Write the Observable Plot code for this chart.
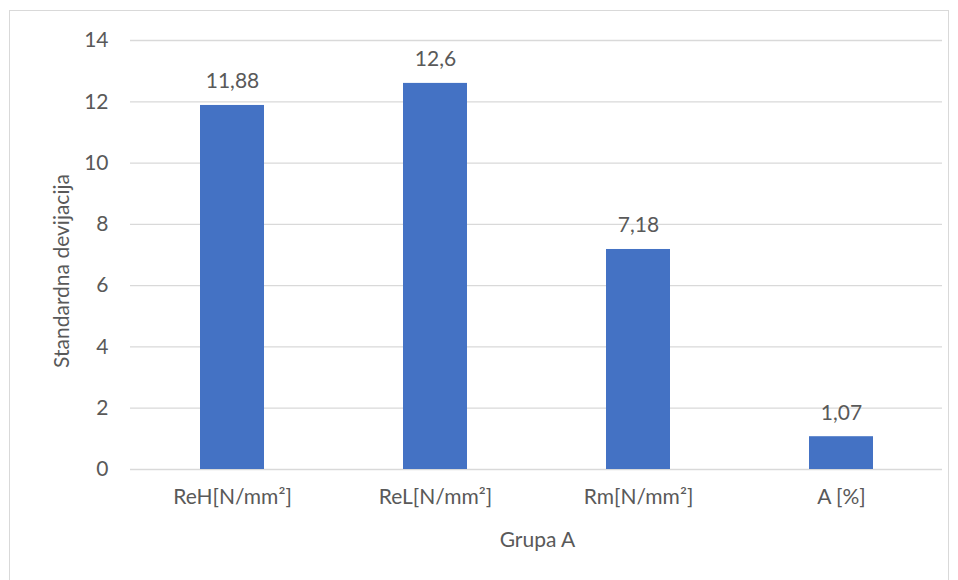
<!DOCTYPE html>
<html>
<head>
<meta charset="utf-8">
<script src="https://cdn.jsdelivr.net/npm/d3@7"></script>
<script src="https://cdn.jsdelivr.net/npm/@observablehq/plot@0.6"></script>
<style>
  html, body { margin: 0; padding: 0; background: #fff; }
  #frame { position: absolute; left: 9px; top: 10px; width: 940px; height: 600px; border: 1px solid #d9d9d9; box-sizing: border-box; }
  #chart { position: absolute; left: 0; top: 0; }
</style>
</head>
<body>
<div id="frame"></div>
<div id="chart"></div>
<script>
const categories = ["ReH[N/mm²]", "ReL[N/mm²]", "Rm[N/mm²]", "A [%]"];
const values = [11.88, 12.6, 7.18, 1.07];
const labels = ["11,88", "12,6", "7,18", "1,07"];
const yTicks = [0, 2, 4, 6, 8, 10, 12, 14];
const xTitle = "Grupa A";
const yTitle = "Standardna devijacija";

const data = categories.map((c, i) => ({cat: c, value: values[i], label: labels[i]}));
const font = "Lato, 'Open Sans', sans-serif";
const textColor = "#595959";
const fs = 21;

const chart = Plot.plot({
  width: 958,
  height: 580,
  marginTop: 40,
  marginBottom: 111,
  marginLeft: 130,
  marginRight: 16,
  style: {fontFamily: font, fontSize: fs + "px", color: textColor, background: "transparent"},
  x: {domain: categories, paddingInner: 0.687, paddingOuter: 0.3435, label: null},
  y: {domain: [0, 14], label: null},
  marks: [
    Plot.ruleY(yTicks, {stroke: "#d9d9d9", strokeWidth: 1.3, strokeOpacity: 1}),
    Plot.barY(data, {x: "cat", y: "value", fill: "#4472c4"}),
    Plot.text(data, {x: "cat", y: "value", text: "label", lineAnchor: "bottom", dy: -17, fill: textColor, fontSize: fs}),
    Plot.axisX({tickSize: 0, tickPadding: 20, label: null, fill: textColor, fontSize: fs}),
    Plot.axisY({ticks: yTicks, tickSize: 0, tickPadding: 22, tickFormat: d => String(d), label: null, fill: textColor, fontSize: fs}),
    Plot.text([xTitle], {frameAnchor: "bottom", text: d => d, textAnchor: "middle", lineAnchor: "middle", dy: 71, dx: 1, fill: textColor, fontSize: fs}),
    Plot.text([yTitle], {frameAnchor: "left", text: d => d, rotate: -90, textAnchor: "middle", lineAnchor: "middle", dx: -68, dy: 16, fill: textColor, fontSize: fs})
  ]
});
document.getElementById("chart").appendChild(chart);
</script>
</body>
</html>
